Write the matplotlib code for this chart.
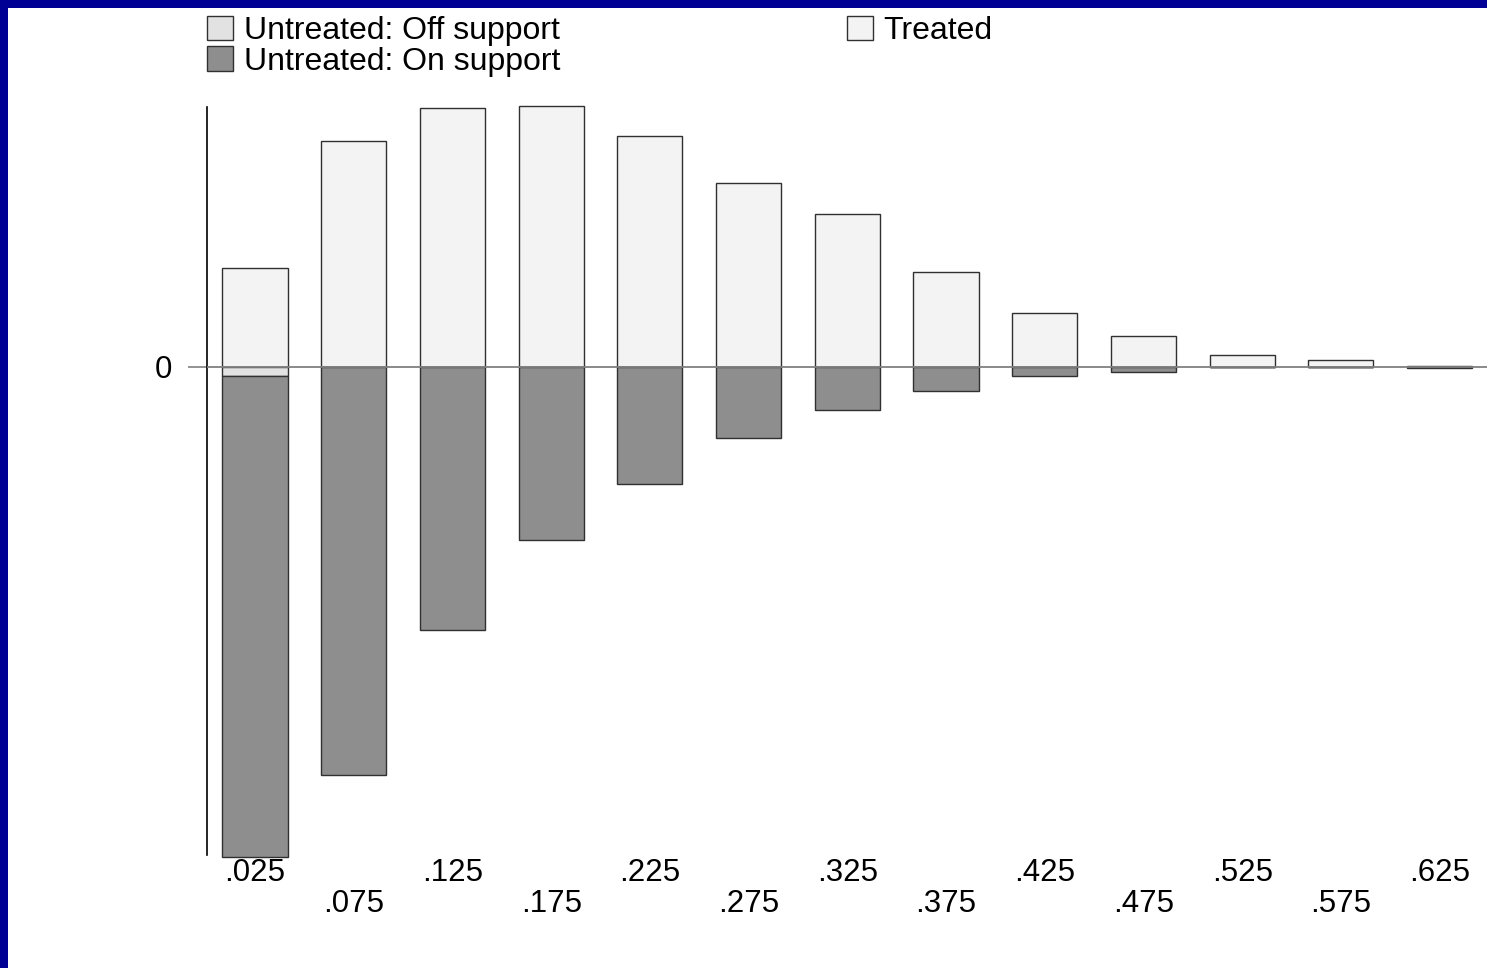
import numpy as np
import matplotlib
matplotlib.use("Agg")
import matplotlib.pyplot as plt
from matplotlib.patches import Rectangle, Patch
from matplotlib.transforms import ScaledTranslation

plt.rcParams['font.family'] = ['Liberation Sans', 'DejaVu Sans']

# propensity score bins (bin midpoints)
bins = [.025, .075, .125, .175, .225, .275, .325, .375, .425, .475, .525, .575, .625]
bin_labels = [".025", ".075", ".125", ".175", ".225", ".275", ".325", ".375",
              ".425", ".475", ".525", ".575", ".625"]
treated = [99, 226, 259, 261, 231, 184, 153, 95, 54, 31, 12, 7, 1]
untreated_on = [481, 408, 263, 173, 117, 71, 43, 24, 9, 5, 0, 0, 0.5]
untreated_off = [9, 0, 0, 0, 0, 0, 0, 0, 0, 0, 0, 0, 0]

c_treated = "#f3f3f3"
c_off = "#e2e2e2"
c_on = "#8e8e8e"
edge = "#303030"

fig = plt.figure(figsize=(14.87, 9.68), dpi=100)
fig.patch.set_facecolor("#000094")
# white page inside the blue frame (frame only on left and top)
fig.patches.append(Rectangle((8 / 1487, 0), 1 - 8 / 1487, 1 - 8 / 968,
                             transform=fig.transFigure, facecolor="white",
                             edgecolor="none", zorder=-5))

ax = fig.add_axes([207 / 1487, 113 / 968, 1 - 207 / 1487, 748 / 968])
ax.set_facecolor("none")

w = 0.033
x = np.array(bins)
off = np.array(untreated_off)
on = np.array(untreated_on)

ax.bar(x, treated, width=w, color=c_treated, edgecolor=edge, linewidth=1,
       zorder=2, clip_on=False)
ax.bar(x, -off, width=w, color=c_off, edgecolor=edge, linewidth=1, zorder=2)
ax.bar(x, -on, bottom=-off, width=w, color=c_on, edgecolor=edge, linewidth=1,
       zorder=2, clip_on=False)
ax.axhline(0, color="#808080", linewidth=1.3, zorder=3)

ax.set_xlim(0.0007, 0.649)
ax.set_ylim(-488, 260)

for s in ["top", "right", "bottom"]:
    ax.spines[s].set_visible(False)
ax.spines["left"].set_linewidth(1.2)

ax.set_yticks([0])
ax.set_yticklabels(["0"], fontsize=22.5)
ax.tick_params(axis="y", length=14, width=1.2, color="#808080", pad=11)

ax.set_xticks(bins)
ax.set_xticklabels(bin_labels, fontsize=22.5)
ax.tick_params(axis="x", length=0, pad=2)
for i, lab in enumerate(ax.get_xticklabels()):
    if i % 2 == 1:
        lab.set_transform(lab.get_transform() +
                          ScaledTranslation(0, -0.31, fig.dpi_scale_trans))

h_off = Patch(facecolor=c_off, edgecolor=edge, label="Untreated: Off support")
h_on = Patch(facecolor=c_on, edgecolor=edge, label="Untreated: On support")
h_tr = Patch(facecolor=c_treated, edgecolor=edge, label="Treated")

leg_kw = dict(frameon=False, fontsize=23, handlelength=0.8, handleheight=0.8,
              handletextpad=0.35, labelspacing=0.0, borderpad=0, borderaxespad=0)
fig.legend(handles=[h_off, h_on], loc="upper left",
           bbox_to_anchor=(207 / 1487, 1 - 16 / 968), **leg_kw)
fig.legend(handles=[h_tr], loc="upper left",
           bbox_to_anchor=(847 / 1487, 1 - 16 / 968), **leg_kw)

fig.savefig("out.png", dpi=100, facecolor=fig.get_facecolor())
